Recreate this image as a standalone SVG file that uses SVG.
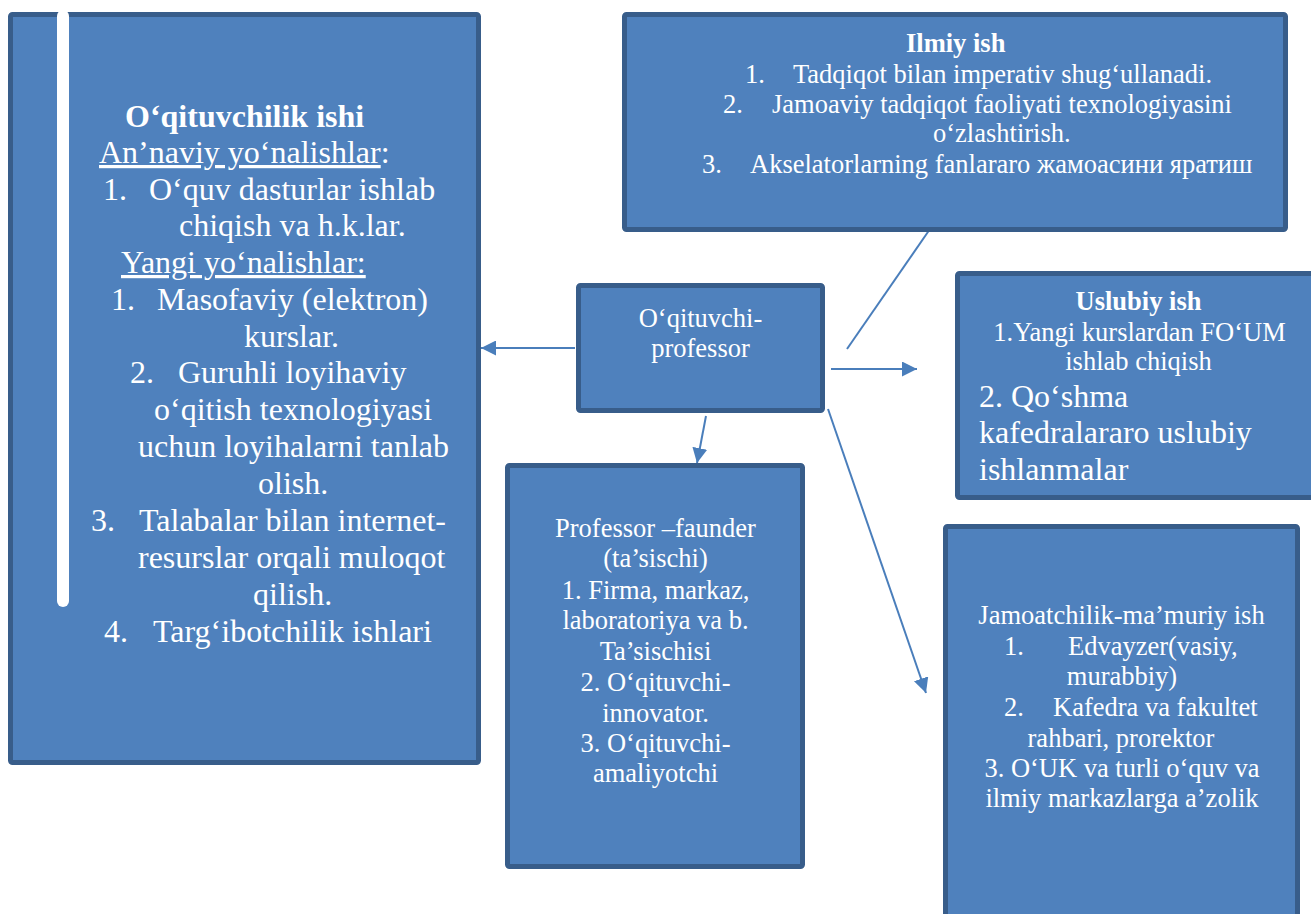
<svg xmlns="http://www.w3.org/2000/svg" width="1311" height="914" viewBox="0 0 1311 914">
<style>
.box{fill:#4f81bd;stroke:#385d8a;stroke-width:5}
.t{font-family:"Liberation Serif","Times New Roman",serif;fill:#ffffff}
.s32{font-size:32px}
.s26{font-size:26.5px}
.b{font-weight:bold}
.m{text-anchor:middle}
.u{text-decoration:underline}
.con{stroke:#4a7ebb;stroke-width:2;fill:none}
</style>
<defs>
<marker id="ah" viewBox="0 0 10 10" refX="10" refY="5" markerWidth="15" markerHeight="15" markerUnits="userSpaceOnUse" orient="auto">
<path d="M0,0 L10,5 L0,10 z" fill="#4a7ebb"/>
</marker>
</defs>
<rect width="1311" height="914" fill="#ffffff"/>

<g id="connectors">
<line class="con" x1="575" y1="348" x2="481" y2="348" marker-end="url(#ah)"/>
<line class="con" x1="847" y1="349" x2="930" y2="229"/>
<line class="con" x1="831" y1="369" x2="917" y2="369" marker-end="url(#ah)"/>
<line class="con" x1="706" y1="416" x2="697" y2="463" marker-end="url(#ah)"/>
<line class="con" x1="828" y1="409" x2="926" y2="693" marker-end="url(#ah)"/>
</g>

<g id="oqituvchilik">
<rect class="box" x="10.5" y="14.5" width="468" height="748" rx="2"/>
<rect x="57" y="10" width="12" height="597" rx="6" fill="#ffffff"/>
<text class="t s32 b" x="125" y="127">O‘qituvchilik ishi</text>
<text class="t s32" x="99" y="163"><tspan class="u">An’naviy yo‘nalishlar</tspan>:</text>
<text class="t s32" x="103" y="200">1.</text>
<text class="t s32" x="149" y="200">O‘quv dasturlar ishlab</text>
<text class="t s32" x="179" y="236">chiqish va h.k.lar.</text>
<text class="t s32 u" x="121" y="273">Yangi yo‘nalishlar:</text>
<text class="t s32" x="111" y="310">1.</text>
<text class="t s32" x="157" y="310">Masofaviy (elektron)</text>
<text class="t s32" x="244" y="347">kurslar.</text>
<text class="t s32" x="130" y="383">2.</text>
<text class="t s32" x="178" y="383">Guruhli loyihaviy</text>
<text class="t s32" x="154" y="420">o‘qitish texnologiyasi</text>
<text class="t s32" x="138" y="457">uchun loyihalarni tanlab</text>
<text class="t s32" x="258" y="494">olish.</text>
<text class="t s32" x="91" y="531">3.</text>
<text class="t s32" x="139" y="531">Talabalar bilan internet-</text>
<text class="t s32" x="138" y="568">resurslar orqali muloqot</text>
<text class="t s32" x="253" y="605">qilish.</text>
<text class="t s32" x="104" y="642">4.</text>
<text class="t s32" x="153" y="642">Targ‘ibotchilik ishlari</text>
</g>

<g id="ilmiy">
<rect class="box" x="624.5" y="14.5" width="661" height="215" rx="2"/>
<text class="t s26 b" x="906" y="52">Ilmiy ish</text>
<text class="t s26" x="745" y="83">1.</text>
<text class="t s26" x="793" y="83">Tadqiqot bilan imperativ shug‘ullanadi.</text>
<text class="t s26" x="723" y="113">2.</text>
<text class="t s26" x="772" y="113">Jamoaviy tadqiqot faoliyati texnologiyasini</text>
<text class="t s26" x="933" y="142">o‘zlashtirish.</text>
<text class="t s26" x="702" y="173">3.</text>
<text class="t s26" x="750" y="173">Akselatorlarning fanlararo жамоасини яратиш</text>
</g>

<g id="professor">
<rect class="box" x="578.5" y="285.5" width="244" height="125" rx="2"/>
<text class="t s26 m" x="700.5" y="327">O‘qituvchi-</text>
<text class="t s26 m" x="700.5" y="357">professor</text>
</g>

<g id="uslubiy">
<rect class="box" x="957.5" y="273.5" width="362" height="224" rx="2"/>
<text class="t s26 b m" x="1138.5" y="310">Uslubiy ish</text>
<text class="t s26 m" x="1139.5" y="341">1.Yangi kurslardan FO‘UM</text>
<text class="t s26 m" x="1138.5" y="370">ishlab chiqish</text>
<text class="t s32" x="979" y="407">2. Qo‘shma</text>
<text class="t s32" x="979" y="443">kafedralararo uslubiy</text>
<text class="t s32" x="979" y="480">ishlanmalar</text>
</g>

<g id="faunder">
<rect class="box" x="507.5" y="465.5" width="295" height="401" rx="2"/>
<text class="t s26 m" x="655.5" y="537">Professor –faunder</text>
<text class="t s26 m" x="655.5" y="567">(ta’sischi)</text>
<text class="t s26 m" x="655.5" y="599">1. Firma, markaz,</text>
<text class="t s26 m" x="655.5" y="629">laboratoriya va b.</text>
<text class="t s26 m" x="655.5" y="660">Ta’sischisi</text>
<text class="t s26 m" x="655.5" y="691">2. O‘qituvchi-</text>
<text class="t s26 m" x="655.5" y="722">innovator.</text>
<text class="t s26 m" x="655.5" y="752">3. O‘qituvchi-</text>
<text class="t s26 m" x="655.5" y="782">amaliyotchi</text>
</g>

<g id="jamoatchilik">
<rect class="box" x="945.5" y="526.5" width="352" height="400" rx="2"/>
<text class="t s26 m" x="1121.5" y="624">Jamoatchilik-ma’muriy ish</text>
<text class="t s26" x="1004" y="655">1.</text>
<text class="t s26" x="1068" y="655">Edvayzer(vasiy,</text>
<text class="t s26 m" x="1122" y="685">murabbiy)</text>
<text class="t s26" x="1004" y="716">2.</text>
<text class="t s26" x="1053" y="716">Kafedra va fakultet</text>
<text class="t s26 m" x="1121" y="747">rahbari, prorektor</text>
<text class="t s26 m" x="1122" y="777">3. O‘UK va turli o‘quv va</text>
<text class="t s26 m" x="1122" y="807">ilmiy markazlarga a’zolik</text>
</g>
</svg>
